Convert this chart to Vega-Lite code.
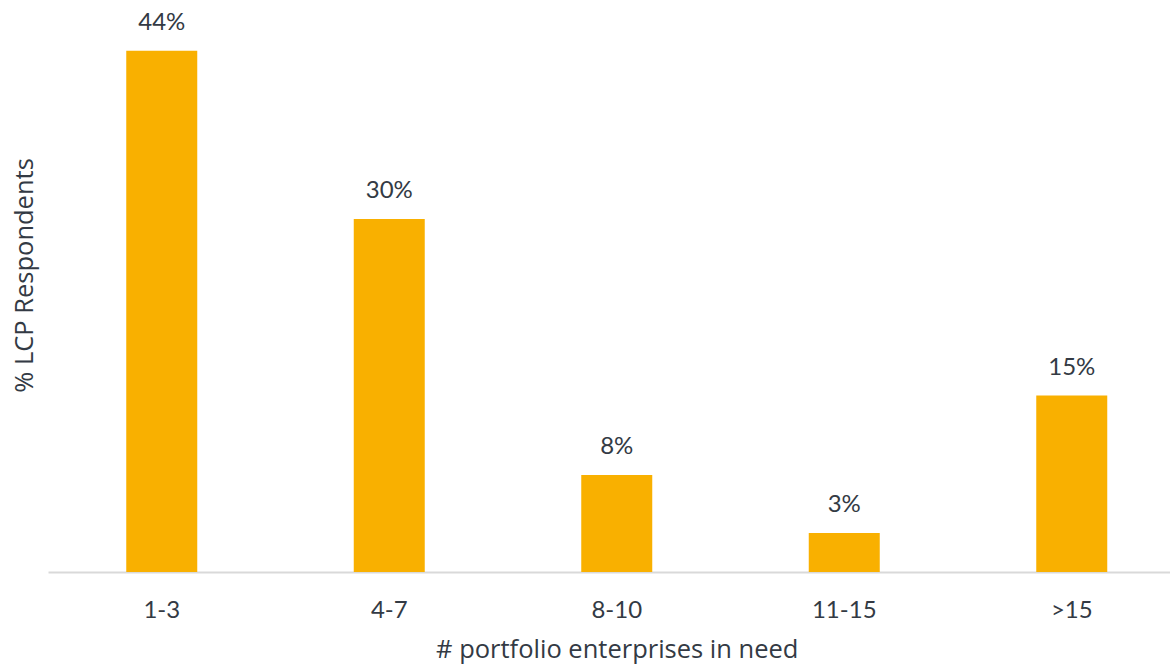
{
  "$schema": "https://vega.github.io/schema/vega-lite/v6.json",
  "autosize": {"type": "none"},
  "padding": {"left": 48, "top": 39, "right": 0, "bottom": 95},
  "width": 1122,
  "height": 533,
  "background": "white",
  "config": {
    "view": {"stroke": null},
    "font": "Lato",
    "axis": {"labelFont": "Lato", "titleFont": "Open Sans", "labelColor": "#333a44", "titleColor": "#333a44", "titleFontWeight": "normal"}
  },
  "data": {
    "values": [
      {"group": "1-3", "pct": 0.44, "label": "44%"},
      {"group": "4-7", "pct": 0.298, "label": "30%"},
      {"group": "8-10", "pct": 0.082, "label": "8%"},
      {"group": "11-15", "pct": 0.033, "label": "3%"},
      {"group": ">15", "pct": 0.149, "label": "15%"}
    ]
  },
  "encoding": {
    "x": {
      "field": "group", "type": "nominal", "sort": null,
      "scale": {"range": [0, 1137.5], "paddingInner": 0, "paddingOuter": 0},
      "axis": {
        "title": "# portfolio enterprises in need",
        "titleFontSize": 25.5,
        "titleBaseline": "alphabetic",
        "titleY": 85,
        "labelAngle": 0,
        "labelFontSize": 24,
        "labelBaseline": "alphabetic",
        "labelPadding": 45,
        "ticks": false,
        "domainColor": "#d9d9d9",
        "domainWidth": 2,
        "grid": false
      }
    },
    "y": {
      "field": "pct", "type": "quantitative",
      "scale": {"domain": [0, 0.45], "nice": false},
      "axis": {
        "title": "% LCP Respondents",
        "titleFontSize": 25.5,
        "titleAngle": -90,
        "titleAlign": "center",
        "titleBaseline": "middle",
        "titleX": -24,
        "titleY": 236,
        "labels": false,
        "ticks": false,
        "domain": false,
        "grid": false
      }
    }
  },
  "layer": [
    {"mark": {"type": "bar", "width": 71, "color": "#F9B000"}},
    {"mark": {"type": "text", "fontSize": 24, "color": "#333a44", "baseline": "alphabetic", "dy": -21}, "encoding": {"text": {"field": "label"}}}
  ]
}
